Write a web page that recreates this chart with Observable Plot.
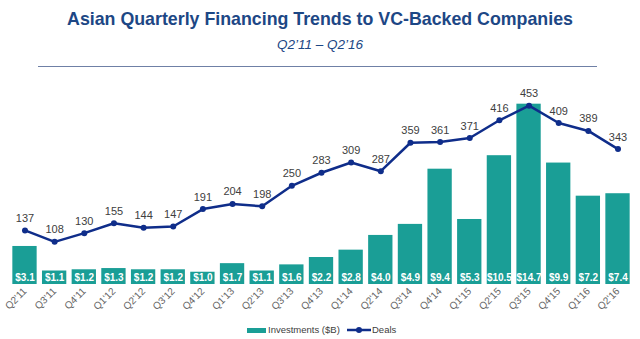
<!DOCTYPE html>
<html>
<head>
<meta charset="utf-8">
<script src="https://cdn.jsdelivr.net/npm/d3@7"></script>
<script src="https://cdn.jsdelivr.net/npm/@observablehq/plot@0.6"></script>
<style>
  html, body { margin: 0; padding: 0; background: #fff; }
  body { width: 640px; height: 339px; overflow: hidden; font-family: "Liberation Sans", Arial, sans-serif; }
  #header { position: relative; height: 72px; }
  #title { position: absolute; left: 0; right: 0; top: 9px; text-align: center; font-weight: bold; font-size: 17.8px; color: #1d4785; white-space: nowrap; }
  #subtitle { position: absolute; left: 0; right: 0; top: 37px; text-align: center; font-style: italic; font-size: 13.5px; color: #1d4785; }
  #rule { position: absolute; left: 38px; width: 559px; top: 66px; height: 0; border-top: 1.5px solid #6f80a6; }
  #chart svg { display: block; }
  #legend { position: relative; height: 21px; font-size: 9.5px; color: #404040; }
  .lg { position: absolute; top: 6px; line-height: 12px; }
</style>
</head>
<body>
<div id="header">
  <div id="title">Asian Quarterly Financing Trends to VC-Backed Companies</div>
  <div id="subtitle">Q2’11 – Q2’16</div>
  <div id="rule"></div>
</div>
<div id="chart"></div>
<div id="legend">
  <span class="lg" style="left:247px;top:10px;width:19px;height:5px;background:#1a9e96;"></span>
  <span class="lg" style="left:268px;">Investments ($B)</span>
  <svg class="lg" style="left:347px;top:7px;" width="24" height="10"><line x1="0" y1="5" x2="24" y2="5" stroke="#0f2d8a" stroke-width="2.5"/><circle cx="12" cy="5" r="3" fill="#0f2d8a"/></svg>
  <span class="lg" style="left:372px;">Deals</span>
</div>
<script>
const quarters = ["Q2'11","Q3'11","Q4'11","Q1'12","Q2'12","Q3'12","Q4'12","Q1'13","Q2'13","Q3'13","Q4'13","Q1'14","Q2'14","Q3'14","Q4'14","Q1'15","Q2'15","Q3'15","Q4'15","Q1'16","Q2'16"];
const investments = [3.1,1.1,1.2,1.3,1.2,1.2,1.0,1.7,1.1,1.6,2.2,2.8,4.0,4.9,9.4,5.3,10.5,14.7,9.9,7.2,7.4];
const deals = [137,108,130,155,144,147,191,204,198,250,283,309,287,359,361,371,416,453,409,389,343];

const dealsPerBillion = 31.07; // secondary axis ratio (deals scale vs $B scale)
const data = quarters.map((q, i) => ({q, inv: investments[i], deals: deals[i]}));

const teal = "#1a9e96";
const navy = "#0f2d8a";

const chart = Plot.plot({
  width: 640,
  height: 246,
  marginTop: 28,
  marginBottom: 34,
  marginLeft: 7,
  marginRight: 5,
  style: {fontFamily: "Liberation Sans, Arial, sans-serif", background: "white"},
  x: {domain: quarters, padding: 0.18, round: false, label: null},
  y: {domain: [0, 15], axis: null},
  marks: [
    Plot.barY(data, {x: "q", y: "inv", fill: teal}),
    Plot.text(data, {x: "q", y: 0, dy: -7, text: d => "$" + d.inv.toFixed(1), fill: "white", fontWeight: "bold", fontSize: 10, letterSpacing: "-0.2px"}),
    Plot.line(data, {x: "q", y: d => d.deals / dealsPerBillion, stroke: navy, strokeWidth: 2.5}),
    Plot.dot(data, {x: "q", y: d => d.deals / dealsPerBillion, r: 3, fill: navy}),
    Plot.text(data, {x: "q", y: d => d.deals / dealsPerBillion, dy: -12, text: d => String(d.deals), fill: "#404040", fontSize: 11}),
    Plot.axisX({tickRotate: -45, tickSize: 0, tickPadding: 5, fontSize: 10, color: "#666666", label: null})
  ]
});
document.getElementById("chart").appendChild(chart);
</script>
</body>
</html>
